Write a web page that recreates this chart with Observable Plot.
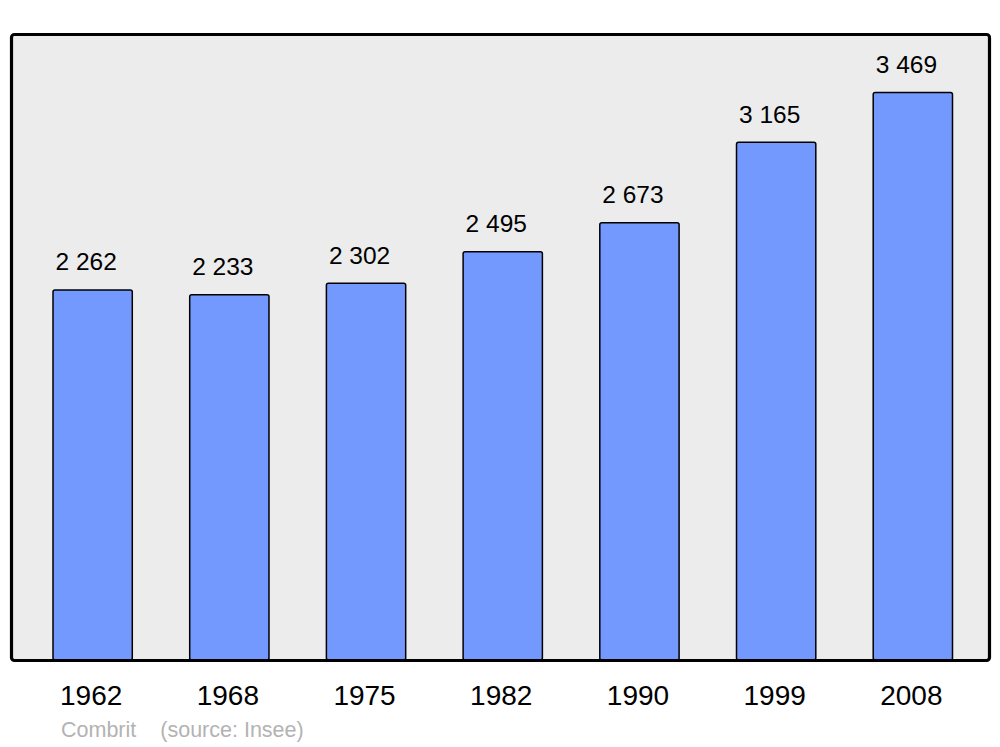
<!DOCTYPE html>
<html>
<head>
<meta charset="utf-8">
<script src="https://cdn.jsdelivr.net/npm/d3@7"></script>
<script src="https://cdn.jsdelivr.net/npm/@observablehq/plot@0.6"></script>
<style>
  body { margin: 0; background: #fff; font-family: "Liberation Sans", Arial, sans-serif; }
  #wrap { position: relative; width: 1000px; height: 747px; }
  #caption { position: absolute; left: 61px; top: 720px; font-size: 21.5px; line-height: 1; color: #b3b3b3; white-space: nowrap; }
  #caption span + span { margin-left: 24px; }
</style>
</head>
<body>
<div id="wrap">
  <div id="chart"></div>
  <div id="caption"><span>Combrit</span><span>(source: Insee)</span></div>
</div>
<script>
const years = ["1962", "1968", "1975", "1982", "1990", "1999", "2008"];
const population = [2262, 2233, 2302, 2495, 2673, 3165, 3469];
const valueLabels = ["2 262", "2 233", "2 302", "2 495", "2 673", "3 165", "3 469"];

const data = years.map((y, i) => ({year: y, pop: population[i], label: valueLabels[i]}));

const chart = Plot.plot({
  width: 1000,
  height: 712,
  marginTop: 34,
  marginBottom: 52,
  marginLeft: 11,
  marginRight: 11,
  style: {fontFamily: "'Liberation Sans', Arial, sans-serif", background: "transparent", overflow: "visible"},
  x: {domain: years, range: [53, 952.5], paddingInner: 0.42, paddingOuter: 0, round: false, label: null},
  y: {domain: [0, 3826], axis: null},
  marks: [
    Plot.frame({fill: "#ececec", stroke: "none"}),
    Plot.barY(data, {x: "year", y: "pop", fill: "#7399ff", stroke: "#000", strokeWidth: 1.5, rx: 2}),
    Plot.text(data, {x: "year", y: "pop", text: "label", dx: -7, dy: -20, lineAnchor: "bottom", fontSize: 24.5, fill: "#000"}),
    Plot.frame({stroke: "#000", strokeWidth: 3.2, rx: 3, fill: "none"}),
    Plot.axisX({tickSize: 0, tickPadding: 25, fontSize: 28, dx: -2, label: null, color: "#000"})
  ]
});
document.getElementById("chart").appendChild(chart);
</script>
</body>
</html>
